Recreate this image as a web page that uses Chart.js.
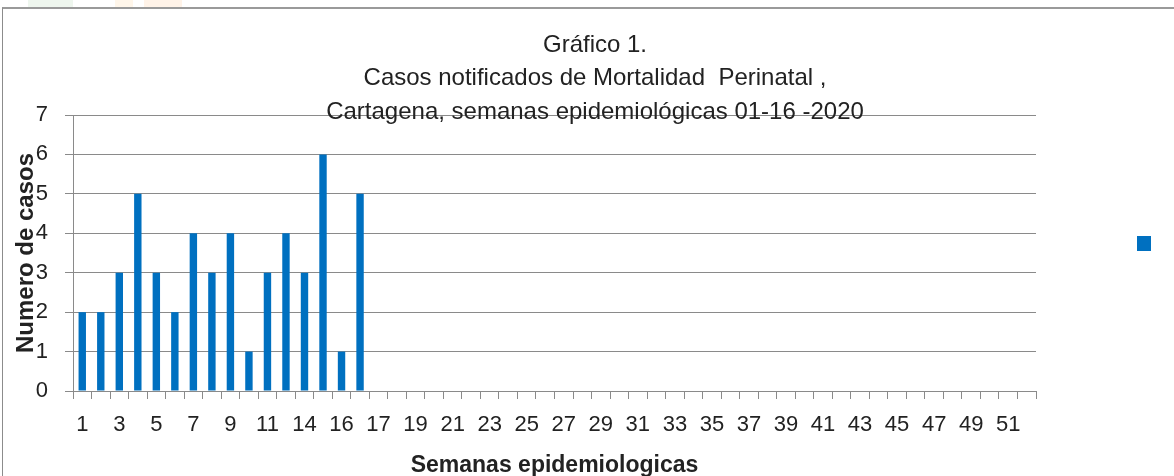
<!DOCTYPE html>
<html>
<head>
<meta charset="utf-8">
<script src="https://cdn.jsdelivr.net/npm/chart.js@4"></script>
<style>
  html, body { margin: 0; padding: 0; background: #fff; }
  #wrap { position: relative; width: 1174px; height: 476px; overflow: hidden; }
  #frame { position: absolute; left: 2px; top: 7px; width: 1300px; height: 600px;
           border-left: 1px solid #8c8c8c; border-top: 2px solid #9a9a9a; pointer-events: none; }
  .blob { position: absolute; top: 0; height: 7px; }
  canvas { position: absolute; left: 0; top: 0; }
</style>
</head>
<body>
<div id="wrap">
  <div class="blob" style="left:28px;width:45px;background:#eef6ee"></div>
  <div class="blob" style="left:115px;width:18px;background:#fff6ea"></div>
  <div class="blob" style="left:144px;width:38px;background:#fff3e8"></div>
  <canvas id="chart" width="1174" height="476"></canvas>
  <div id="frame"></div>
</div>
<script>
/* ---- data ---- */
const semanas = [
  '1', '2', '3', '4', '5', '6', '7', '8', '9', '10', '11', '12', '14', '15', '16', '16',
  '17', '18', '19', '20', '21', '22', '23', '24', '25', '26', '27', '28', '29', '30',
  '31', '32', '33', '34', '35', '36', '37', '38', '39', '40', '41', '42', '43', '44',
  '45', '46', '47', '48', '49', '50', '51', '52'
];
const casos = [2, 2, 3, 5, 3, 2, 4, 3, 4, 1, 3, 4, 3, 6, 1, 5];
const yTicks = [0, 1, 2, 3, 4, 5, 6, 7];

const titulo = [
  'Gráfico 1.',
  'Casos notificados de Mortalidad  Perinatal ,',
  'Cartagena, semanas epidemiológicas 01-16 -2020'
];

const BLUE = '#0070c0';
const GRID = '#8a8a8a';
const TEXT = '#222222';
const FONT = 'Liberation Sans';

// title sits over the top gridline in the original, so draw it by hand
const tituloPlugin = {
  id: 'tituloPlugin',
  afterDraw(chart) {
    const { ctx } = chart;
    ctx.save();
    ctx.fillStyle = TEXT;
    ctx.font = `24px "${FONT}"`;
    ctx.textAlign = 'center';
    ctx.textBaseline = 'middle';
    const cx = chart.width / 2 + 8;
    titulo.forEach((t, i) => ctx.fillText(t, cx, 45 + i * 33.5));
    ctx.restore();
  }
};

// small square on the right, like the original's empty legend entry
const legendSquare = {
  id: 'legendSquare',
  afterDraw(chart) {
    const { ctx, chartArea } = chart;
    ctx.save();
    ctx.fillStyle = chart.data.datasets[0].backgroundColor;
    ctx.fillRect(chartArea.right + 101, (chartArea.top + chartArea.bottom) / 2 - 17, 14, 15);
    ctx.restore();
  }
};

new Chart(document.getElementById('chart'), {
  type: 'bar',
  data: {
    labels: semanas,
    datasets: [{
      label: '',
      data: semanas.map((_, i) => (i < casos.length ? casos[i] : null)),
      backgroundColor: BLUE,
      borderWidth: 0,
      barPercentage: 0.8,
      categoryPercentage: 0.5,
    }]
  },
  options: {
    responsive: false,
    animation: false,
    layout: { padding: { left: 0, right: 138, top: 115, bottom: 0 } },
    plugins: {
      legend: { display: false },
      tooltip: { enabled: false },
      title: { display: false },
    },
    scales: {
      x: {
        afterFit(scale) { scale.height = 85; },
        grid: { drawOnChartArea: false, drawTicks: true, tickLength: 8, color: GRID, offset: true },
        border: { color: GRID },
        ticks: {
          autoSkip: false, maxRotation: 0, minRotation: 0, padding: 13,
          color: TEXT, font: { family: FONT, size: 22 },
          callback: (v, i) => (i % 2 === 0 ? semanas[i] : ''),
        },
        title: {
          display: true, text: 'Semanas epidemiologicas', color: TEXT,
          font: { family: FONT, size: 23, weight: 'bold', lineHeight: 1 },
          padding: { top: 0, bottom: -1.5 },
        },
      },
      y: {
        min: 0, max: 7,
        afterFit(scale) { scale.width = 73; },
        afterBuildTicks(scale) { scale.ticks = yTicks.map(v => ({ value: v })); },
        grid: { color: GRID, tickLength: 8 },
        border: { color: GRID },
        ticks: { padding: 17, color: TEXT, font: { family: FONT, size: 22 } },
        title: {
          display: true, text: 'Numero de casos', color: TEXT,
          font: { family: FONT, size: 24, weight: 'bold', lineHeight: 1 },
          padding: { top: 14, bottom: 0 },
        },
      },
    },
  },
  plugins: [tituloPlugin, legendSquare],
});
</script>
</body>
</html>
